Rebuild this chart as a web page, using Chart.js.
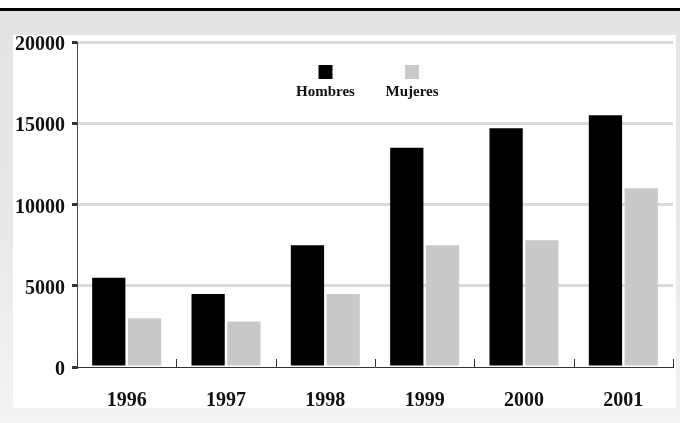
<!DOCTYPE html>
<html>
<head>
<meta charset="utf-8">
<script src="https://cdn.jsdelivr.net/npm/chart.js@4.4.1/dist/chart.umd.min.js"></script>
<style>
  html, body { margin: 0; padding: 0; background: #ffffff; }
  #wrap { position: relative; width: 680px; height: 423px; overflow: hidden; background: #ffffff; }
  #topline { position: absolute; left: 0; top: 8px; width: 680px; height: 3px; background: #000000; }
  #frame { position: absolute; left: 0; top: 11px; width: 680px; height: 412px;
           background: linear-gradient(to bottom, #e4e4e4 0%, #e8e8e8 50%, #f4f4f4 100%); }
  #panel { position: absolute; left: 13px; top: 35px; width: 663px; height: 373px; background: #ffffff; }
  #chart { position: absolute; left: 0; top: 0; }
</style>
</head>
<body>
<div id="wrap">
  <div id="topline"></div>
  <div id="frame"></div>
  <div id="panel"></div>
  <canvas id="chart" width="680" height="423"></canvas>
</div>
<script>
// Population by year, split by sex
const years = ['1996', '1997', '1998', '1999', '2000', '2001'];
const hombres = [5500, 4500, 7500, 13500, 14700, 15500];
const mujeres = [3000, 2800, 4500, 7500, 7800, 11000];
const yTicks = [0, 5000, 10000, 15000, 20000];

const serif = "'Liberation Serif', 'DejaVu Serif', serif";

// Small upward tick marks at each category boundary on the x axis
const categoryTicks = {
  id: 'categoryTicks',
  afterDatasetsDraw(chart) {
    const x = chart.scales.x;
    const ctx = chart.ctx;
    const half = (x.getPixelForValue(1) - x.getPixelForValue(0)) / 2;
    ctx.save();
    ctx.strokeStyle = '#333333';
    ctx.lineWidth = 1;
    ctx.beginPath();
    for (let i = 0; i <= years.length; i++) {
      const px = Math.round(x.getPixelForValue(i) - half) + 0.5;
      ctx.moveTo(px, x.top);
      ctx.lineTo(px, x.top - 8);
    }
    ctx.stroke();
    ctx.restore();
  }
};

// Legend: a swatch with its label centred underneath
const stackedLegend = {
  id: 'stackedLegend',
  afterDraw(chart) {
    const ctx = chart.ctx;
    const centres = [325.5, 412];
    ctx.save();
    chart.data.datasets.forEach((ds, i) => {
      const cx = centres[i];
      ctx.fillStyle = ds.backgroundColor;
      ctx.fillRect(cx - 7, 65, 14, 14);
      ctx.fillStyle = '#111111';
      ctx.font = 'bold 15px ' + serif;
      ctx.textAlign = 'center';
      ctx.textBaseline = 'middle';
      ctx.fillText(ds.label, cx, 92);
    });
    ctx.restore();
  }
};

new Chart(document.getElementById('chart'), {
  type: 'bar',
  data: {
    labels: years,
    datasets: [
      { label: 'Hombres', data: hombres, backgroundColor: '#000000' },
      { label: 'Mujeres', data: mujeres, backgroundColor: '#c9c9c9' }
    ]
  },
  options: {
    responsive: false,
    animation: false,
    devicePixelRatio: 1,
    layout: { padding: { left: 0, top: 42, right: 7, bottom: 0 } },
    datasets: { bar: { categoryPercentage: 0.72, barPercentage: 0.93 } },
    plugins: {
      legend: { display: false },
      tooltip: { enabled: false }
    },
    scales: {
      x: {
        grid: { display: false, drawTicks: false },
        border: { display: true, color: '#333333', width: 1 },
        ticks: {
          color: '#111111',
          padding: 22,
          font: { family: serif, size: 20, weight: 'bold' }
        },
        afterFit(scale) { scale.height = 56; }
      },
      y: {
        min: 0,
        max: 20000,
        afterBuildTicks(scale) { scale.ticks = yTicks.map(v => ({ value: v })); },
        grid: {
          color: (c) => c.tick && c.tick.value === 0 ? 'rgba(0,0,0,0)' : '#dadada',
          lineWidth: 3,
          tickColor: '#333333',
          tickLength: 5
        },
        border: { display: true, color: '#444444', width: 1 },
        ticks: {
          color: '#111111',
          padding: 7,
          labelOffset: 3,
          font: { family: serif, size: 20, weight: 'bold' },
          callback: (v) => String(v)
        },
        afterFit(scale) { scale.width = 77; }
      }
    }
  },
  plugins: [categoryTicks, stackedLegend]
});
</script>
</body>
</html>
